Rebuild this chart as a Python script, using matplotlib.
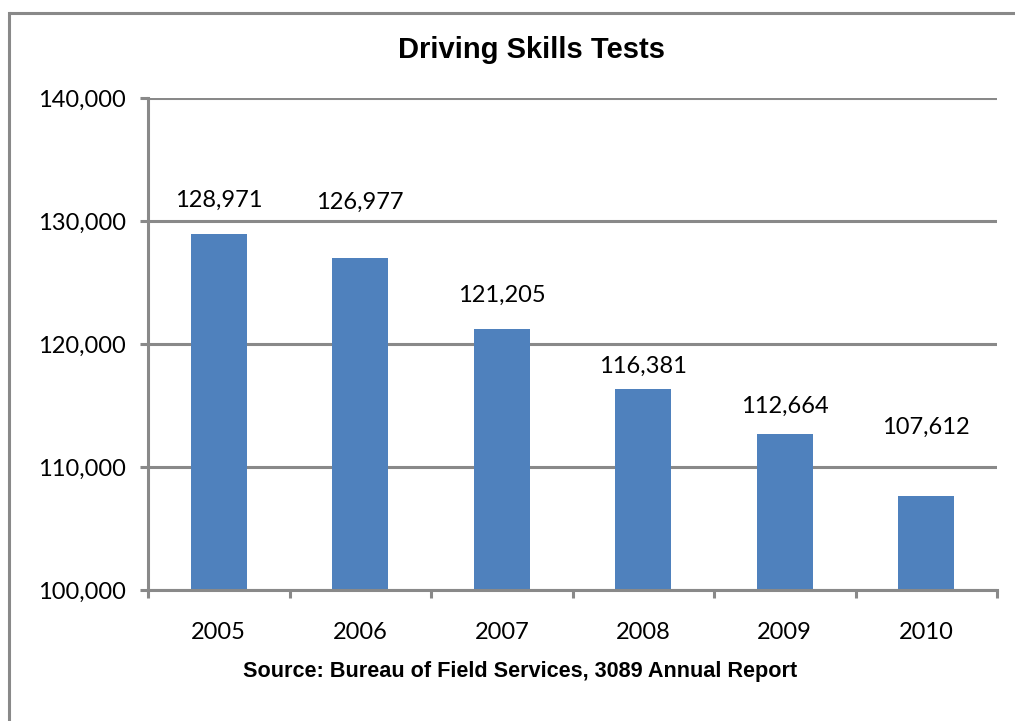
import matplotlib
matplotlib.use("Agg")
import matplotlib.pyplot as plt
from matplotlib.lines import Line2D

# DATA
years = ["2005", "2006", "2007", "2008", "2009", "2010"]
tests = [128971, 126977, 121205, 116381, 112664, 107612]
y_ticks = [100000, 110000, 120000, 130000, 140000]

# label offsets above each bar (points) - labels were hand placed in the original
label_offsets = [24, 40, 24.5, 16, 20, 50]

bar_color = "#4F81BD"
grid_color = "#898989"
lw = 2.2
fs = 17

fig = plt.figure(figsize=(10.15, 7.21), dpi=100)
ax = fig.add_axes([148 / 1015, 1 - 590 / 721, (997 - 148) / 1015, (590 - 98) / 721])

x = [i + 0.5 for i in range(len(years))]
ax.bar(x, tests, width=0.395, color=bar_color, zorder=2)

ax.set_xlim(0, len(years))
ax.set_ylim(y_ticks[0], y_ticks[-1])
ax.set_yticks(y_ticks)
ax.set_yticklabels([f"{v:,}" for v in y_ticks], family="Lato", fontsize=fs)

# category boundary ticks + centered labels
ax.set_xticks(range(len(years) + 1))
ax.set_xticklabels([])
ax.set_xticks(x, minor=True)
ax.set_xticklabels(years, minor=True, family="Lato", fontsize=fs)
ax.tick_params(axis="x", which="major", length=6, width=lw, color=grid_color, direction="out")
ax.tick_params(axis="x", which="minor", length=0, pad=23)
ax.tick_params(axis="y", length=6, width=lw, color=grid_color, pad=10)

ax.set_axisbelow(True)
ax.yaxis.grid(True, color=grid_color, linewidth=lw)
for side in ["top", "right"]:
    ax.spines[side].set_visible(False)
for side in ["left", "bottom"]:
    ax.spines[side].set_color(grid_color)
    ax.spines[side].set_linewidth(lw)

for xi, v, off in zip(x, tests, label_offsets):
    ax.annotate(f"{v:,}", (xi, v), xytext=(0, off), textcoords="offset points",
                ha="center", va="center", family="Lato", fontsize=fs)

fig.text(531 / 1015, 1 - 50 / 721, "Driving Skills Tests", ha="center", va="center",
         family="Liberation Sans", fontweight="bold", fontsize=21)
fig.text(520 / 1015, 1 - 672 / 721, "Source: Bureau of Field Services, 3089 Annual Report",
         ha="center", va="center", family="Liberation Sans", fontweight="bold", fontsize=15.6)

# chart area border (only top and left edges fall inside the picture)
bx, by = 8.5 / 1015, 1 - 12.5 / 721
fig.add_artist(Line2D([bx, 1.02], [by, by], color=grid_color, linewidth=lw,
                      solid_capstyle="butt", transform=fig.transFigure))
fig.add_artist(Line2D([bx, bx], [-0.02, by], color=grid_color, linewidth=lw,
                      solid_capstyle="projecting", transform=fig.transFigure))

fig.savefig("out.png", dpi=100)
